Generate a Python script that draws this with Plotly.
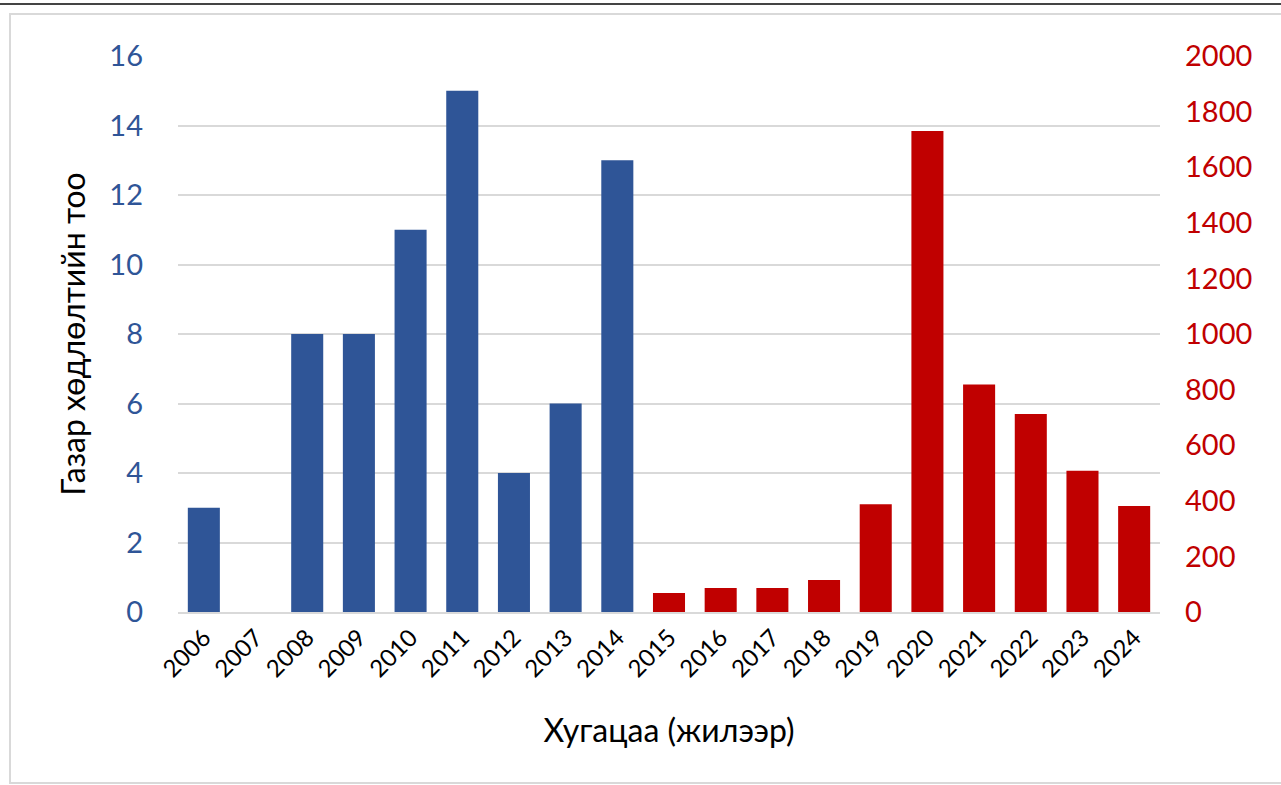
import plotly.graph_objects as go

years = [str(y) for y in range(2006, 2025)]
count_years = ["2006", "2007", "2008", "2009", "2010", "2011", "2012", "2013", "2014"]
count_values = [3, 0, 8, 8, 11, 15, 4, 6, 13]
energy_years = ["2015", "2016", "2017", "2018", "2019", "2020", "2021", "2022", "2023", "2024"]
energy_values = [68, 86, 86, 115, 388, 1730, 818, 712, 508, 381]

left_ticks = list(range(0, 17, 2))
right_ticks = list(range(0, 2001, 200))

BLUE = "#2F5597"
RED = "#C00000"
GRID = "#D9D9D9"
FONT = "Lato"

W, H = 1281, 785
L, R, T, B = 178, 121, 56, 173
pw, ph = W - L - R, H - T - B


def px(x):
    return (x - L) / pw


def py(y):
    return (H - B - y) / ph


fig = go.Figure()
fig.add_trace(go.Bar(x=count_years, y=count_values, marker=dict(color=BLUE, line=dict(width=0)),
                     yaxis="y", showlegend=False))
fig.add_trace(go.Bar(x=energy_years, y=energy_values, marker=dict(color=RED, line=dict(width=0)),
                     yaxis="y2", showlegend=False))

fig.update_layout(
    width=W, height=H,
    margin=dict(l=L, r=R, t=T, b=B, pad=0),
    paper_bgcolor="white", plot_bgcolor="white",
    barmode="overlay", bargap=0.38,
    font=dict(family=FONT, color="#000000"),
    xaxis=dict(
        type="category", categoryorder="array", categoryarray=years,
        tickangle=-45, tickfont=dict(size=24, color="#000000"),
        showgrid=False, showline=True, linecolor=GRID, linewidth=2,
        ticks="", title=dict(text="Хугацаа (жилээр)", font=dict(size=32, color="#000000"), standoff=38),
    ),
    yaxis=dict(
        range=[0, 16], tickvals=left_ticks, tickfont=dict(size=29, color=BLUE),
        showgrid=True, gridcolor=GRID, gridwidth=2, zeroline=False, ticks="",
        ticklabelstandoff=34,
        title=dict(text="Газар хөдлөлтийн тоо", font=dict(size=32, color="#000000"), standoff=14),
    ),
    yaxis2=dict(
        range=[0, 2000], tickvals=right_ticks, tickfont=dict(size=29, color=RED),
        overlaying="y", side="right", showgrid=False, zeroline=False, ticks="",
        ticklabelstandoff=24,
    ),
    shapes=[
        dict(type="line", xref="paper", yref="paper", x0=px(0), x1=px(W), y0=py(4), y1=py(4),
             line=dict(color="#444444", width=2)),
        dict(type="rect", xref="paper", yref="paper", x0=px(10), x1=px(W + 10), y0=py(14), y1=py(783),
             line=dict(color=GRID, width=2), layer="below"),
    ],
)

fig.write_html("out.html", config={"displayModeBar": False},
               post_script="document.body.style.margin='0';document.body.style.overflow='hidden';")
